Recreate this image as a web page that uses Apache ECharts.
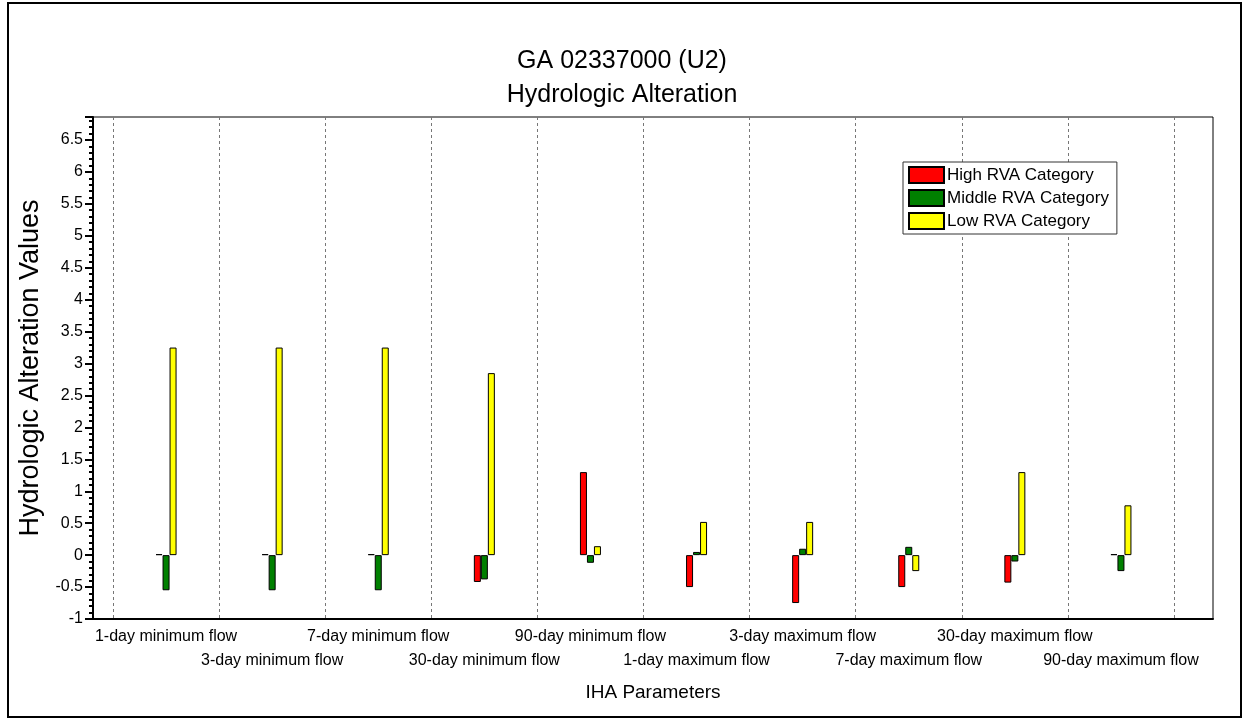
<!DOCTYPE html>
<html>
<head>
<meta charset="utf-8">
<script src="https://cdn.jsdelivr.net/npm/echarts@6/dist/echarts.min.js"></script>
<style>
html,body{margin:0;padding:0;background:#fff;}
#chart{width:1244px;height:721px;}
</style>
</head>
<body>
<div id="chart"></div>
<script>
const categories = ['1-day minimum flow','3-day minimum flow','7-day minimum flow','30-day minimum flow','90-day minimum flow','1-day maximum flow','3-day maximum flow','7-day maximum flow','30-day maximum flow','90-day maximum flow'];
const highRVA   = [0, 0, 0, -0.42, 1.3, -0.5, -0.75, -0.5, -0.43, 0];
const middleRVA = [-0.55, -0.55, -0.55, -0.38, -0.12, 0.05, 0.1, 0.13, -0.1, -0.25];
const lowRVA    = [3.25, 3.25, 3.25, 2.85, 0.14, 0.52, 0.52, -0.25, 1.3, 0.78];
const yMin = -1, yMax = 6.86;

const FONT = "'Liberation Sans', Arial, sans-serif";
const chart = echarts.init(document.getElementById('chart'));
const barStyle = c => ({ color: c, borderColor: '#000', borderWidth: 1 });

chart.setOption({
  animation: false,
  backgroundColor: '#fff',
  textStyle: { fontFamily: FONT, color: '#000' },
  title: {
    text: 'GA 02337000 (U2)\nHydrologic Alteration',
    left: 'center', top: 39,
    textStyle: { fontFamily: FONT, fontSize: 25, fontWeight: 'normal', color: '#000', lineHeight: 34 }
  },
  legend: {
    orient: 'vertical', left: 903, top: 162,
    padding: [4, 8, 4, 5], itemGap: 5, itemWidth: 35, itemHeight: 16,
    icon: 'rect',
    backgroundColor: '#fff', borderColor: '#333', borderWidth: 1,
    textStyle: { fontFamily: FONT, fontSize: 17, lineHeight: 18, color: '#000', padding: [0, 0, 0, -2] },
    data: ['High RVA Category', 'Middle RVA Category', 'Low RVA Category']
  },
  graphic: [{
    type: 'rect', shape: { x: 8, y: 3, width: 1233, height: 714 },
    style: { fill: 'none', stroke: '#000', lineWidth: 2 }, silent: true
  }],
  grid: [
    { left: 113, top: 117, width: 1061, height: 502 },
    { left: 93, top: 117, width: 1120, height: 502, show: true, borderColor: '#000', borderWidth: 1, backgroundColor: 'transparent' }
  ],
  xAxis: [
    {
      gridIndex: 0, type: 'category', data: categories, boundaryGap: true,
      axisLine: { show: false, onZero: false }, axisTick: { show: false },
      splitLine: { show: true, interval: 0, lineStyle: { color: '#777', type: [3, 3], width: 1 } },
      axisLabel: {
        interval: 0, margin: 6, fontFamily: FONT, fontSize: 16, color: '#000', lineHeight: 24,
        formatter: (v, i) => (i % 2 ? '\n' + v : v)
      }
    },
    {
      gridIndex: 1, type: 'category', data: categories,
      axisLine: { show: true, onZero: false, lineStyle: { color: '#000', width: 2 } },
      axisTick: { show: false }, axisLabel: { show: false }, splitLine: { show: false },
      name: 'IHA Parameters', nameLocation: 'middle', nameGap: 64,
      nameTextStyle: { fontFamily: FONT, fontSize: 19, color: '#000' }
    }
  ],
  yAxis: [
    { gridIndex: 0, type: 'value', min: yMin, max: yMax, show: false, splitLine: { show: false } },
    {
      gridIndex: 1, type: 'value', min: yMin, max: yMax, interval: 0.5, position: 'left',
      axisLine: { show: true, lineStyle: { color: '#000', width: 2 } },
      axisTick: { show: true, length: 8, lineStyle: { color: '#000', width: 2 } },
      splitLine: { show: false },
      axisLabel: {
        margin: 10, fontFamily: FONT, fontSize: 16, color: '#000',
        formatter: v => (Math.abs(v * 2 - Math.round(v * 2)) < 1e-6 ? String(Math.round(v * 10) / 10) : '')
      },
      name: 'Hydrologic Alteration Values', nameLocation: 'middle', nameGap: 44,
      nameTextStyle: { fontFamily: FONT, fontSize: 27, color: '#000' }
    },
    {
      gridIndex: 1, type: 'value', min: yMin, max: yMax, interval: 0.1, position: 'left', offset: 0,
      axisLine: { show: false },
      axisTick: { show: true, length: 4, lineStyle: { color: '#000', width: 2 } },
      axisLabel: { show: false }, splitLine: { show: false }
    }
  ],
  series: [
    { name: 'High RVA Category', type: 'bar', xAxisIndex: 0, yAxisIndex: 0, data: highRVA, barWidth: 7, barGap: '0%', barMinHeight: 1, itemStyle: barStyle('#FF0000') },
    { name: 'Middle RVA Category', type: 'bar', xAxisIndex: 0, yAxisIndex: 0, data: middleRVA, barWidth: 7, barGap: '0%', itemStyle: barStyle('#008000') },
    { name: 'Low RVA Category', type: 'bar', xAxisIndex: 0, yAxisIndex: 0, data: lowRVA, barWidth: 7, barGap: '0%', itemStyle: barStyle('#FFFF00') }
  ]
});
</script>
</body>
</html>
